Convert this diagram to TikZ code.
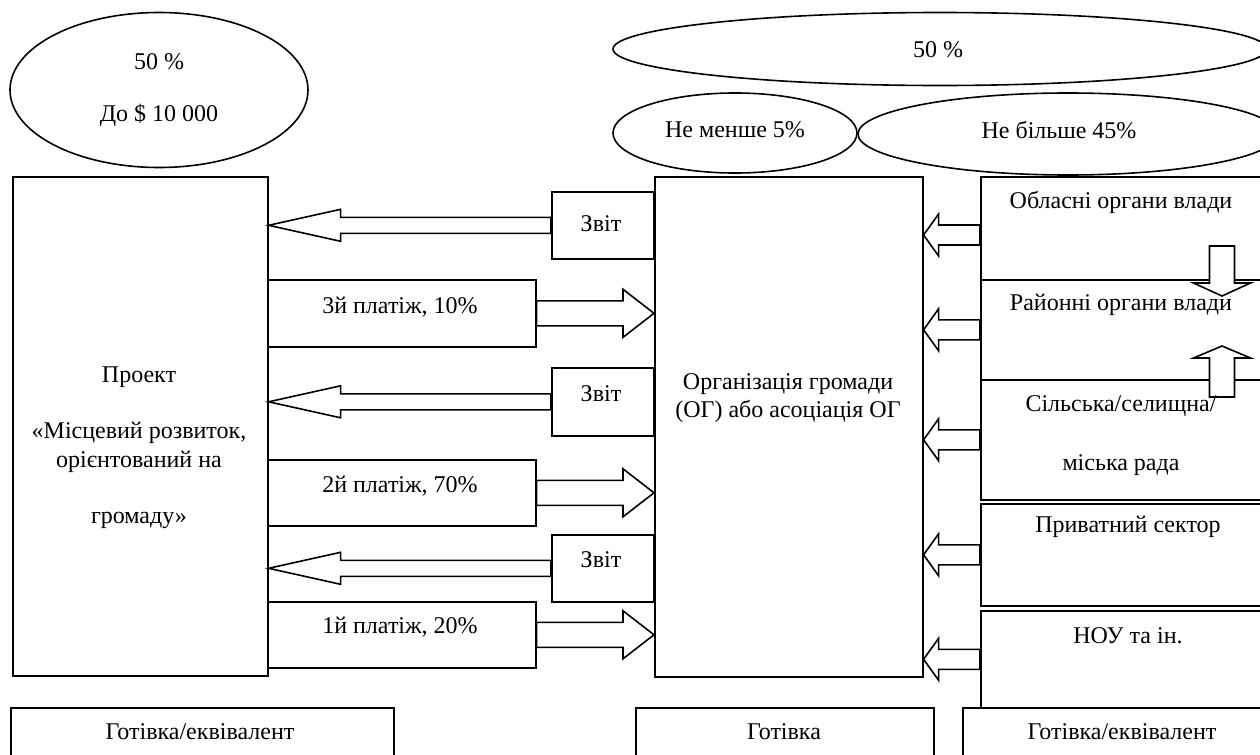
\documentclass[tikz,border=0pt]{standalone}
\usepackage{fontspec}
\setmainfont{Liberation Serif}
\usetikzlibrary{calc,shapes.geometric}

\tikzset{
    box/.style = {draw, line width = 0.8pt, inner sep = 0pt, anchor = north west},
    oval/.style = {draw, ellipse, line width = 0.8pt, inner sep = 0pt},
    arrline/.style = {draw, fill = white, line width = 0.8pt, line join = miter},
    lbl/.style = {font = {\fontsize{12}{14}\selectfont}, black, inner sep = 0pt},
}

% block arrow: tail, tip, shaft half width, head half width, head length
\newcommand{\blockarr}[5]{%
    \coordinate (hb) at ($(#2)!#5!(#1)$);
    \draw[arrline] ($(#1)!#3!90:(#2)$) -- ($(hb)!#3!90:(#2)$) -- ($(hb)!#4!90:(#2)$) -- (#2)
        -- ($(hb)!#4!-90:(#2)$) -- ($(hb)!#3!-90:(#2)$) -- ($(#1)!#3!-90:(#2)$) -- cycle;
}

\begin{document}
\begin{tikzpicture}[x = 0.5pt, y = -0.5pt]
            \useasboundingbox (0, 0) rectangle (1260, 755);
            \clip (0, 0) rectangle (1260, 755);

            \node[oval, minimum width = 149pt, minimum height = 77.5pt] (share) at (159, 90) {};
            \node[oval, minimum width = 327pt, minimum height = 36.5pt] (half) at (940, 49) {};
            \node[oval, minimum width = 122pt, minimum height = 40pt] (least) at (735, 133) {};
            \node[oval, minimum width = 210pt, minimum height = 41pt] (most) at (1068, 134) {};

            \node[box, minimum width = 127.5pt, minimum height = 249.5pt] (proj) at (12, 176) {};
            \node[box, minimum width = 134pt, minimum height = 250pt] (og) at (654, 176) {};

            \node[box, minimum width = 51pt, minimum height = 33.5pt] (zvit1) at (551, 191) {};
            \node[box, minimum width = 51pt, minimum height = 34pt] (zvit2) at (551, 367) {};
            \node[box, minimum width = 51pt, minimum height = 33.5pt] (zvit3) at (551, 534) {};

            \node[box, minimum width = 134pt, minimum height = 33.5pt] (pay3) at (267, 279) {};
            \node[box, minimum width = 134pt, minimum height = 33pt] (pay2) at (267, 459) {};
            \node[box, minimum width = 134pt, minimum height = 33pt] (pay1) at (267, 601) {};

            \node[box, minimum width = 142pt, minimum height = 51.5pt] (obl) at (980, 176) {};
            \node[box, minimum width = 142pt, minimum height = 50pt] (ray) at (980, 279) {};
            \node[box, minimum width = 142pt, minimum height = 60pt] (sil) at (980, 379) {};
            \node[box, minimum width = 142pt, minimum height = 51pt] (pryv) at (980, 503) {};
            \node[box, minimum width = 142pt, minimum height = 48.5pt] (nou) at (980, 610) {};

            \node[box, minimum width = 191.5pt, minimum height = 30pt] (cash1) at (10, 707) {};
            \node[box, minimum width = 149pt, minimum height = 30pt] (cash2) at (635, 707) {};
            \node[box, minimum width = 150pt, minimum height = 30pt] (cash3) at (962, 707) {};

            \blockarr{zvit1.west}{proj.east |- zvit1.west}{4pt}{8pt}{36pt}
            \blockarr{zvit2.west}{proj.east |- zvit2.west}{4pt}{8pt}{36pt}
            \blockarr{zvit3.west}{proj.east |- zvit3.west}{4pt}{8pt}{36pt}

            \blockarr{pay3.east}{og.west |- pay3.east}{6.25pt}{12pt}{15.5pt}
            \blockarr{pay2.east}{og.west |- pay2.east}{6.25pt}{12pt}{15.5pt}
            \blockarr{pay1.east}{og.west |- pay1.east}{6.25pt}{12pt}{15.5pt}

            \coordinate (oblout) at (980, 235);
            \blockarr{oblout}{og.east |- oblout}{5pt}{10.5pt}{7.5pt}
            \blockarr{ray.west}{og.east |- ray.west}{5pt}{10.5pt}{7.5pt}
            \blockarr{sil.west}{og.east |- sil.west}{5pt}{10.5pt}{7.5pt}
            \blockarr{pryv.west}{og.east |- pryv.west}{5pt}{10.5pt}{7.5pt}
            \blockarr{nou.west}{og.east |- nou.west}{5pt}{10.5pt}{7.5pt}

            \coordinate (obldown) at (1222, 246);
            \coordinate (raytop) at (1222, 296);
            \coordinate (silup) at (1222, 397);
            \coordinate (raybottom) at (1222, 346);
            \blockarr{obldown}{raytop}{6.25pt}{14.25pt}{6.5pt}
            \blockarr{silup}{raybottom}{6.25pt}{14.25pt}{6pt}

            \node[lbl] at (159, 62) {50 \%};
            \node[lbl] at (159, 115) {До \$ 10 000};
            \node[lbl] at (938, 50) {50 \%};
            \node[lbl] at (735, 130) {Не менше 5\%};
            \node[lbl] at (1059, 130) {Не більше 45\%};

            \node[lbl] at (139, 377) {Проект};
            \node[lbl] at (139, 433) {«Місцевий розвиток,};
            \node[lbl] at (139, 462) {орієнтований на};
            \node[lbl] at (139, 520) {громаду»};

            \node[lbl] at (788, 384) {Організація громади};
            \node[lbl] at (788, 411) {(ОГ) або асоціація ОГ};

            \node[lbl] at (601, 224) {Звіт};
            \node[lbl] at (601, 394) {Звіт};
            \node[lbl] at (601, 560) {Звіт};

            \node[lbl] at (400, 307) {3й платіж, 10\%};
            \node[lbl] at (400, 486) {2й платіж, 70\%};
            \node[lbl] at (400, 627) {1й платіж, 20\%};

            \node[lbl] at (1121, 202) {Обласні органи влади};
            \node[lbl] at (1121, 305) {Районні органи влади};
            \node[lbl] at (1121, 406) {Сільська/селищна/};
            \node[lbl] at (1121, 465) {міська рада};
            \node[lbl] at (1128, 527) {Приватний сектор};
            \node[lbl] at (1128, 636) {НОУ та ін.};

            \node[lbl] at (200, 732) {Готівка/еквівалент};
            \node[lbl] at (784, 732) {Готівка};
            \node[lbl] at (1122, 732) {Готівка/еквівалент};
\end{tikzpicture}
\end{document}
